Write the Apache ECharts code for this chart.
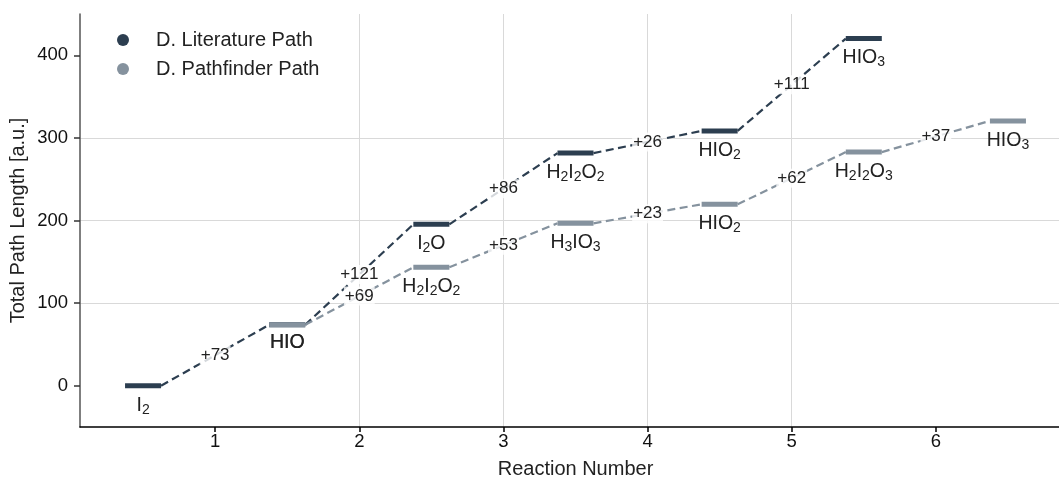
<!DOCTYPE html>
<html><head><meta charset="utf-8">
<script src="https://cdn.jsdelivr.net/npm/echarts@6/dist/echarts.min.js"></script>
<style>html,body{margin:0;padding:0;background:#fff}#c{width:1059px;height:479px}</style>
</head><body><div id="c"></div>
<script>
// ---- data ----
// Literature path: reactions 0..5 (levels centred at reaction index + 0.5)
const litStart = 0;
const litSpecies = ['I{s|2}', 'HIO', 'I{s|2}O', 'H{s|2}I{s|2}O{s|2}', 'HIO{s|2}', 'HIO{s|3}'];
const litLevels = [0, 73.7, 195.4, 281.6, 308.5, 420.2];
const litDeltas = ['+73', '+121', '+86', '+26', '+111'];
// Pathfinder path: branches off at HIO
const pfStart = 1;
const pfSpecies = ['HIO', 'H{s|2}I{s|2}O{s|2}', 'H{s|3}IO{s|3}', 'HIO{s|2}', 'H{s|2}I{s|2}O{s|3}', 'HIO{s|3}'];
const pfLevels = [73.7, 143.4, 196.6, 219.6, 282.8, 320.6];
const pfDeltas = ['+69', '+53', '+23', '+62', '+37'];
const xTicks = [1, 2, 3, 4, 5, 6];
const yTicks = [0, 100, 200, 300, 400];
const seriesNames = ['D. Literature Path', 'D. Pathfinder Path'];

const DARK = '#2c3e50', GRAY = '#85929e';
const FONT = 'Liberation Sans';
const HALF = 0.125;

function makeSeries(name, start, levels, species, deltas, color, z) {
  const data = levels.map((v, i) => [start + i + 0.5, v]);
  return {
    type: 'custom', name: name, z: z,
    itemStyle: { color: color },
    data: data,
    encode: { x: 0, y: 1 },
    renderItem: function (params, api) {
      const i = params.dataIndex;
      const x = api.value(0), y = api.value(1);
      const a = api.coord([x - HALF, y]);
      const b = api.coord([x + HALF, y]);
      const children = [];
      children.push({
        type: 'line', z2: 5,
        shape: { x1: a[0], y1: a[1], x2: b[0], y2: b[1] },
        style: { stroke: color, lineWidth: 5 }
      });
      children.push({
        type: 'text', z2: 6,
        style: {
          text: species[i], x: (a[0] + b[0]) / 2, y: a[1] + 8,
          align: 'center', verticalAlign: 'top',
          fill: '#222', fontFamily: FONT, fontSize: 19.5,
          rich: {
            s: { fontSize: 14, fontFamily: FONT, fill: '#222', padding: [9, 0, 0, 0] }
          }
        }
      });
      if (i < levels.length - 1) {
        const nx = x + 1, ny = levels[i + 1];
        const c = api.coord([nx - HALF, ny]);
        children.push({
          type: 'line', z2: 2,
          shape: { x1: b[0], y1: b[1], x2: c[0], y2: c[1] },
          style: { stroke: color, lineWidth: 2.2, lineDash: [8, 4.5] }
        });
        children.push({
          type: 'text', z2: 8,
          style: {
            text: deltas[i], x: (b[0] + c[0]) / 2, y: (b[1] + c[1]) / 2,
            align: 'center', verticalAlign: 'middle',
            fill: '#222', fontFamily: FONT, fontSize: 17,
            backgroundColor: 'rgba(255,255,255,0.8)', padding: [1, 1, 1, 1]
          }
        });
      }
      return { type: 'group', children: children };
    }
  };
}

const chart = echarts.init(document.getElementById('c'), null, { renderer: 'canvas' });
chart.setOption({
  animation: false,
  backgroundColor: '#fff',
  textStyle: { fontFamily: FONT },
  grid: { left: 80, right: -12, top: 14, bottom: 52, containLabel: false, outerBoundsMode: 'none' },
  legend: {
    orient: 'vertical', left: 112, top: 25,
    icon: 'circle', itemWidth: 12, itemHeight: 12, itemGap: 9,
    textStyle: { fontFamily: FONT, fontSize: 20, color: '#222', padding: [0, 0, 0, 22] },
    data: seriesNames
  },
  xAxis: {
    type: 'value', min: 0.0625, max: 6.9375,
    name: 'Reaction Number', nameLocation: 'middle', nameGap: 32, nameMoveOverlap: false,
    nameTextStyle: { fontFamily: FONT, fontSize: 20, color: '#222' },
    axisLine: { onZero: false, lineStyle: { color: '#000', width: 1.5 } },
    axisTick: { show: true, length: 5, inside: false, customValues: xTicks, lineStyle: { color: '#000', width: 1.5 } },
    axisLabel: { customValues: xTicks, margin: 5, fontFamily: FONT, fontSize: 18.5, color: '#111' },
    splitLine: { show: true, showMinLine: false, showMaxLine: false, lineStyle: { color: '#d9d9d9', width: 1 } }
  },
  yAxis: {
    type: 'value', min: -50, max: 450,
    name: 'Total Path Length [a.u.]', nameLocation: 'middle', nameGap: 52, nameMoveOverlap: false,
    nameTextStyle: { fontFamily: FONT, fontSize: 20, color: '#222' },
    axisLine: { show: true, onZero: false, lineStyle: { color: '#555', width: 1.5 } },
    axisTick: { show: true, length: 6, inside: false, customValues: yTicks, lineStyle: { color: '#333', width: 1.5 } },
    axisLabel: { customValues: yTicks, margin: 12, fontFamily: FONT, fontSize: 18.5, color: '#111' },
    splitLine: { show: true, showMinLine: false, showMaxLine: false, lineStyle: { color: '#d9d9d9', width: 1 } }
  },
  series: [
    makeSeries(seriesNames[0], litStart, litLevels, litSpecies, litDeltas, DARK, 2),
    makeSeries(seriesNames[1], pfStart, pfLevels, pfSpecies, pfDeltas, GRAY, 3)
  ]
});
</script></body></html>
